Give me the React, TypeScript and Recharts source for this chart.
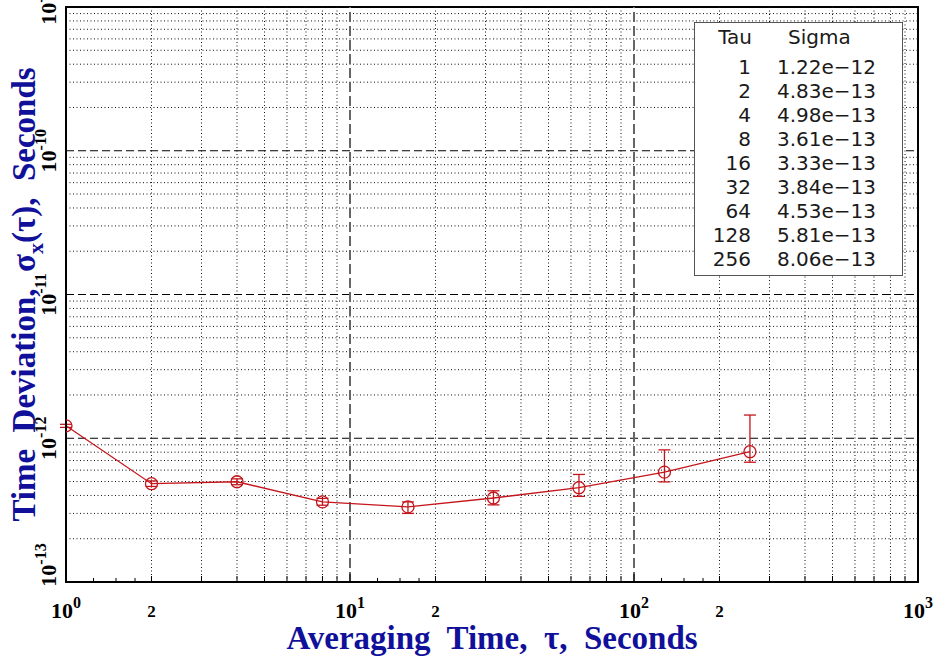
import { LineChart, Line, XAxis, YAxis, ReferenceLine, ReferenceArea, ErrorBar } from 'recharts';

// Allan-style time deviation results
const tau = [1, 2, 4, 8, 16, 32, 64, 128, 256];
const sigma = [1.22e-12, 4.83e-13, 4.98e-13, 3.61e-13, 3.33e-13, 3.84e-13, 4.53e-13, 5.81e-13, 8.06e-13];
const sigmaLow = [1.19e-12, 4.62e-13, 4.75e-13, 3.42e-13, 3.0e-13, 3.44e-13, 3.94e-13, 4.97e-13, 6.81e-13];
const sigmaHigh = [1.25e-12, 5.05e-13, 5.22e-13, 3.82e-13, 3.61e-13, 4.31e-13, 5.6e-13, 8.3e-13, 1.45e-12];

// axes
const xDecades = [1, 10, 100, 1000];
const yDecades = [1e-13, 1e-12, 1e-11, 1e-10, 1e-9];
const gridSteps = [2, 3, 4, 5, 6, 7, 8, 9];
const smallSteps = [1.25, 1.5, 1.75];

const RED = '#c4161c';
const BLUE = '#10109a';
const SERIF = '"Liberation Serif", "Times New Roman", serif';
const SANS = '"DejaVu Sans", sans-serif';

const data = tau.map((t, i) => ({
  tau: t,
  sigma: sigma[i],
  err: [sigma[i] - sigmaLow[i], sigmaHigh[i] - sigma[i]],
}));

const xMinor = xDecades.slice(0, -1).flatMap((d) => gridSteps.map((s) => s * d));
const xSmall = xDecades.slice(0, -1).flatMap((d) => smallSteps.map((s) => s * d));
const xTicks = [...xDecades, ...xMinor, ...xSmall].sort((a, b) => a - b);
const yMinor = yDecades.slice(0, -1).flatMap((d) => gridSteps.map((s) => s * d));

const mantissa = (v: number) => Math.round((v / Math.pow(10, Math.floor(Math.log10(v) + 1e-9))) * 100) / 100;

function XTick(props: any) {
  const { x, y, payload, top } = props;
  const v = payload.value;
  const m = mantissa(v);
  const exp = Math.round(Math.log10(v));
  const isMajor = m === 1;
  const isSmall = smallSteps.includes(m);
  const len = isMajor ? 8 : isSmall ? 4 : 6;
  const dir = top ? 1 : -1;
  return (
    <g>
      <line x1={x} x2={x} y1={y} y2={y + dir * len} stroke="#000" strokeWidth={1} />
      {!top && isMajor && (
        <text x={x} y={y + 36} textAnchor="middle" fontFamily={SERIF} fontWeight="bold" fontSize={22} fill="#000">
          <tspan>10</tspan>
          <tspan dy={-10} fontSize={16}>{exp}</tspan>
        </text>
      )}
      {!top && m === 2 && (
        <text x={x} y={y + 35} textAnchor="middle" fontFamily={SERIF} fontWeight="bold" fontSize={17} fill="#000">
          2
        </text>
      )}
    </g>
  );
}

function YTick(props: any) {
  const { x, y, payload, index } = props;
  const exp = Math.round(Math.log10(payload.value));
  const tx = x - 10;
  const ty = index === 0 ? y - 17 : y;
  return (
    <text
      x={tx}
      y={ty}
      transform={`rotate(-90 ${tx} ${ty})`}
      textAnchor="middle"
      fontFamily={SERIF}
      fontWeight="bold"
      fontSize={22}
      fill="#000"
    >
      <tspan>10</tspan>
      <tspan dy={-10} fontSize={16}>{`-${Math.abs(exp)}`}</tspan>
    </text>
  );
}

function XTitle(props: any) {
  const { viewBox } = props;
  return (
    <text
      x={viewBox.x + viewBox.width / 2}
      y={viewBox.y + 67}
      textAnchor="middle"
      fontFamily={SERIF}
      fontWeight="bold"
      fontSize={33}
      fill={BLUE}
      style={{ whiteSpace: 'pre' }}
    >
      {'Averaging  Time,  \u03c4,  Seconds'}
    </text>
  );
}

function YTitle(props: any) {
  const { viewBox } = props;
  const tx = viewBox.x + 35;
  const ty = viewBox.y + viewBox.height / 2;
  return (
    <text
      x={tx}
      y={ty}
      transform={`rotate(-90 ${tx} ${ty})`}
      textAnchor="middle"
      fontFamily={SERIF}
      fontWeight="bold"
      fontSize={33}
      fill={BLUE}
      style={{ whiteSpace: 'pre' }}
    >
      <tspan>{'Time  Deviation,  \u03c3'}</tspan>
      <tspan dy={8} fontSize={22}>x</tspan>
      <tspan dy={-8}>{'(\u03c4),  Seconds'}</tspan>
    </text>
  );
}

function SigmaTable() {
  return (
    <svg width={935} height={658} style={{ position: 'absolute', left: 0, top: 0, pointerEvents: 'none' }}>
      <rect x={694.5} y={22.5} width={208} height={253} fill="#fff" stroke="#555" strokeWidth={1} />
      <g fontFamily={SANS} fontSize={20} fill="#1a1a1a">
        <text x={752} y={44} textAnchor="end">Tau</text>
        <text x={788} y={44}>Sigma</text>
        {tau.map((t, i) => (
          <g key={t}>
            <text x={751} y={74 + i * 24} textAnchor="end">{t}</text>
            <text x={777} y={74 + i * 24}>{sigma[i].toExponential(2).replace('-', '\u2212')}</text>
          </g>
        ))}
      </g>
    </svg>
  );
}

export default function App() {
  return (
    <div style={{ position: 'absolute', left: 0, top: 0, width: 935, height: 658, background: '#fff' }}>
      <LineChart width={935} height={658} data={data} margin={{ top: 7, right: 17, left: 0, bottom: 0 }}>
        <XAxis
          dataKey="tau"
          type="number"
          scale="log"
          domain={[1, 1000]}
          allowDataOverflow
          ticks={xTicks}
          interval={0}
          height={76}
          tickSize={0}
          tickMargin={0}
          tick={(p: any) => <XTick {...p} />}
          axisLine={{ stroke: '#000', strokeWidth: 2 }}
          label={(p: any) => <XTitle {...p} />}
        />
        <XAxis
          xAxisId="top"
          orientation="top"
          dataKey="tau"
          type="number"
          scale="log"
          domain={[1, 1000]}
          allowDataOverflow
          ticks={xTicks}
          interval={0}
          height={0}
          tickSize={0}
          tickMargin={0}
          tick={(p: any) => <XTick {...p} top />}
          axisLine={false}
        />
        <YAxis
          type="number"
          scale="log"
          domain={[1e-13, 1e-9]}
          allowDataOverflow
          ticks={yDecades}
          interval={0}
          width={66}
          tickSize={0}
          tickMargin={0}
          tick={(p: any) => <YTick {...p} />}
          axisLine={{ stroke: '#000', strokeWidth: 2 }}
          label={(p: any) => <YTitle {...p} />}
        />

        {yMinor.map((v) => (
          <ReferenceLine key={`ym${v}`} y={v} stroke="#111" strokeDasharray="1 2.5" strokeWidth={1} />
        ))}
        {xMinor.map((v) => (
          <ReferenceLine key={`xm${v}`} x={v} stroke="#111" strokeDasharray="1 2.5" strokeWidth={1} />
        ))}
        {yDecades.slice(1, -1).map((v) => (
          <ReferenceLine key={`yM${v}`} y={v} stroke="#000" strokeDasharray="8 4" strokeWidth={1} />
        ))}
        {xDecades.slice(1, -1).map((v) => (
          <ReferenceLine key={`xM${v}`} x={v} stroke="#666" strokeDasharray="10 4" strokeWidth={2} />
        ))}
        <ReferenceArea
          x1={1}
          x2={1000}
          y1={1e-13}
          y2={1e-9}
          fill="none"
          fillOpacity={0}
          stroke="#000"
          strokeWidth={2}
          ifOverflow="visible"
        />

        <Line
          dataKey="sigma"
          stroke={RED}
          strokeWidth={1.3}
          dot={{ r: 6, fill: 'none', stroke: RED, strokeWidth: 1.3 }}
          activeDot={false}
          isAnimationActive={false}
        >
          <ErrorBar dataKey="err" width={6} stroke={RED} strokeWidth={1.3} direction="y" />
        </Line>
      </LineChart>
      <SigmaTable />
    </div>
  );
}
